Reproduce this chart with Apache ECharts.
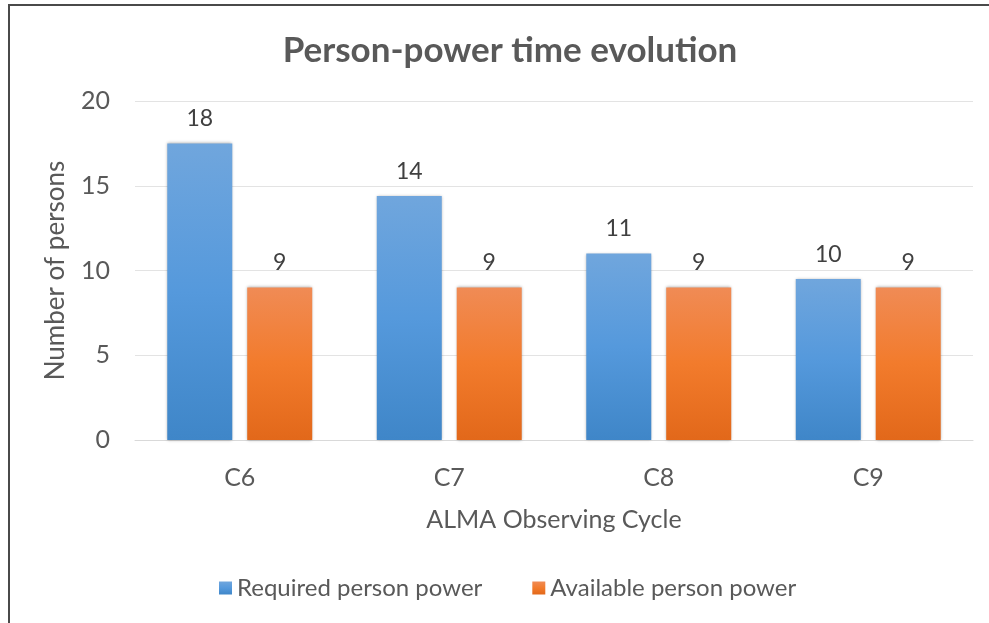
<!DOCTYPE html>
<html>
<head>
<meta charset="utf-8">
<script src="https://cdn.jsdelivr.net/npm/echarts@6/dist/echarts.min.js"></script>
<style>
  html, body { margin: 0; padding: 0; background: #fff; }
  #chart { width: 989px; height: 623px; }
  .frame-top { position: absolute; left: 8px; top: 4px; width: 981px; height: 2px; background: #4a4a4a; }
  .frame-left { position: absolute; left: 8px; top: 4px; width: 2px; height: 619px; background: #4a4a4a; }
</style>
</head>
<body>
<div id="chart"></div>
<div class="frame-top"></div>
<div class="frame-left"></div>
<script>
const cycles = ['C6', 'C7', 'C8', 'C9']
const required = [17.5, 14.4, 11, 9.5]
const available = [9, 9, 9, 9]

const chart = echarts.init(document.getElementById('chart'))

const font = 'Lato, "Open Sans", sans-serif'

function grad(top, mid, bottom) {
  return new echarts.graphic.LinearGradient(0, 0, 0, 1, [
    { offset: 0, color: top },
    { offset: 0.5, color: mid },
    { offset: 1, color: bottom }
  ])
}

const option = {
  backgroundColor: '#fff',
  animation: false,
  textStyle: { fontFamily: font },
  title: {
    text: 'Person-power time evolution',
    left: 505,
    textAlign: 'center',
    top: 28,
    textStyle: { fontFamily: font, fontSize: 35, fontWeight: 'bold', color: '#595959' }
  },
  legend: {
    top: 571,
    left: 214,
    itemWidth: 13,
    itemHeight: 13,
    itemGap: 50,
    icon: 'rect',
    textStyle: { fontFamily: font, fontSize: 24, color: '#595959' },
    data: ['Required person power', 'Available person power']
  },
  grid: { left: 135, right: 16, top: 101, bottom: 183 },
  xAxis: {
    type: 'category',
    data: cycles,
    name: 'ALMA Observing Cycle',
    nameLocation: 'middle',
    nameGap: 67,
    nameTextStyle: { fontFamily: font, fontSize: 25, color: '#595959' },
    axisLine: { lineStyle: { color: '#d9d9d9', width: 1 } },
    axisTick: { show: false },
    axisLabel: { fontFamily: font, fontSize: 25, color: '#595959', margin: 25 }
  },
  yAxis: {
    type: 'value',
    min: 0,
    max: 20,
    interval: 5,
    name: 'Number of persons',
    nameLocation: 'middle',
    nameGap: 66,
    nameTextStyle: { fontFamily: font, fontSize: 26, color: '#595959' },
    axisLine: { show: false },
    axisTick: { show: false },
    axisLabel: { fontFamily: font, fontSize: 25, color: '#595959', margin: 25 },
    splitLine: { lineStyle: { color: '#e3e3e3', width: 1 } }
  },
  series: [
    {
      name: 'Required person power',
      type: 'bar',
      data: required,
      barWidth: 65,
      barGap: '23%',
      itemStyle: {
        color: grad('#70a6dd', '#5599dc', '#3f86c8'),
        shadowBlur: 3,
        shadowColor: 'rgba(0,0,0,0.35)'
      },
      label: {
        show: true,
        position: 'top',
        distance: 13,
        fontFamily: font,
        fontSize: 23,
        color: '#404040',
        formatter: p => Math.round(p.value)
      }
    },
    {
      name: 'Available person power',
      type: 'bar',
      data: available,
      barWidth: 65,
      itemStyle: {
        color: grad('#f08b55', '#f27b2c', '#e2681a'),
        shadowBlur: 3,
        shadowColor: 'rgba(0,0,0,0.35)'
      },
      label: {
        show: true,
        position: 'top',
        distance: 13,
        fontFamily: font,
        fontSize: 23,
        color: '#404040',
        formatter: p => Math.round(p.value)
      }
    }
  ]
}

chart.setOption(option)
</script>
</body>
</html>
